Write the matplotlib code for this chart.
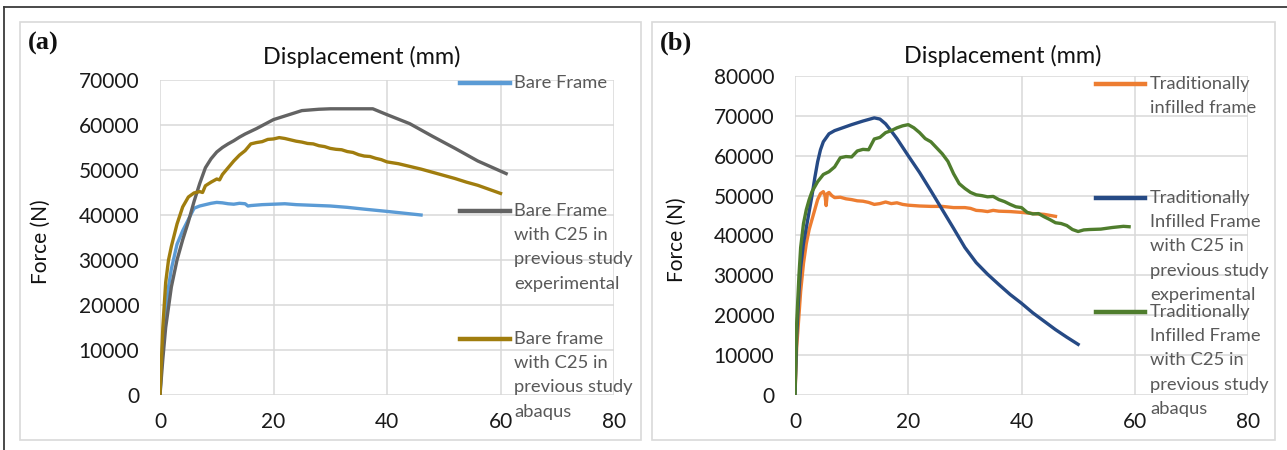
import matplotlib
matplotlib.use("Agg")
import matplotlib.pyplot as plt
from matplotlib.lines import Line2D
from matplotlib.patches import Rectangle

# ---------------- data ----------------
# Panel (a)
bare_x = [0, 0.5, 1, 1.5, 2, 3, 4, 5, 6, 7, 8, 9, 10, 11, 12, 13, 14, 15, 15.5, 16, 17, 18, 20, 22, 24, 26, 28, 30, 33, 36, 40, 43, 46]
bare_y = [0, 12000, 19000, 24000, 28000, 33500, 36500, 39000, 41500, 42000, 42300, 42600, 42800, 42700, 42500, 42400, 42600, 42500, 42000, 42100, 42200, 42300, 42400, 42500, 42300, 42200, 42100, 42000, 41700, 41300, 40800, 40400, 40000]

exp_x = [0, 0.5, 1, 2, 3, 4, 5, 6, 7, 8, 9, 10, 11, 12, 13, 14, 15, 17, 20, 22, 25, 28, 30, 34, 37.5, 40, 44, 48, 52, 56, 61]
exp_y = [0, 8000, 15000, 24000, 30000, 34500, 38500, 43000, 47000, 50500, 52500, 54000, 55000, 55800, 56500, 57300, 58000, 59200, 61200, 62000, 63200, 63500, 63600, 63600, 63600, 62300, 60300, 57500, 54800, 52000, 49200]

abq_x = [0, 0.5, 1, 1.5, 2, 3, 4, 5, 6, 7, 7.5, 8, 9, 10, 10.5, 11, 12, 13, 14, 15, 16, 17, 18, 19, 20, 21, 22, 23, 24, 25, 26, 27, 28, 29, 30, 31, 32, 33, 34, 35, 36, 37, 38, 39, 40, 42, 44, 46, 48, 50, 52, 54, 56, 58, 60]
abq_y = [0, 15000, 25000, 30000, 33000, 38000, 41800, 44000, 44900, 45200, 45000, 46500, 47300, 48000, 47800, 49000, 50500, 52000, 53300, 54300, 55800, 56100, 56300, 56800, 56900, 57200, 57000, 56700, 56400, 56200, 55900, 55800, 55400, 55200, 54800, 54600, 54500, 54100, 53900, 53400, 53100, 53000, 52600, 52300, 51800, 51400, 50800, 50200, 49500, 48800, 48100, 47300, 46600, 45700, 44800]

# Panel (b)
inf_x = [0, 0.3, 0.7, 1, 1.5, 2, 2.5, 3, 3.5, 4, 4.5, 5, 5.3, 5.5, 5.7, 6, 6.5, 7, 8, 9, 10, 11, 12, 13, 14, 15, 16, 17, 18, 19, 20, 22, 24, 26, 28, 30, 31, 32, 33, 34, 35, 36, 38, 40, 42, 44, 46]
inf_y = [0, 12000, 20000, 26000, 33000, 38000, 41500, 44000, 46500, 49000, 50500, 51000, 50000, 47500, 50500, 50800, 50000, 49500, 49600, 49200, 49000, 48700, 48600, 48300, 47800, 48000, 48400, 48000, 48200, 47800, 47600, 47400, 47300, 47300, 47000, 47000, 46800, 46300, 46200, 46000, 46300, 46100, 46000, 45800, 45500, 45300, 44800]

infexp_x = [0, 0.3, 0.7, 1, 1.5, 2, 2.5, 3, 3.5, 4, 4.5, 5, 6, 7, 8, 10, 12, 14, 15, 16, 17, 18, 20, 22, 24, 26, 28, 30, 32, 34, 36, 38, 40, 42, 44, 46, 48, 50]
infexp_y = [0, 15000, 26000, 32000, 38000, 42000, 46000, 50000, 54500, 58500, 61500, 63500, 65500, 66300, 66800, 67800, 68700, 69500, 69200, 68000, 66200, 64300, 60000, 55800, 51200, 46500, 41800, 37000, 33200, 30300, 27700, 25200, 23000, 20600, 18500, 16400, 14500, 12700]

infabq_x = [0, 0.3, 0.7, 1, 1.5, 2, 2.5, 3, 4, 5, 6, 7, 8, 9, 10, 11, 12, 13, 14, 15, 16, 17, 18, 19, 20, 21, 22, 23, 24, 25, 26, 27, 28, 29, 30, 31, 32, 33, 34, 35, 36, 37, 38, 39, 40, 41, 42, 43, 44, 45, 46, 47, 48, 49, 50, 51, 52, 54, 56, 58, 59]
infabq_y = [0, 18000, 30000, 37000, 43000, 46500, 49000, 51000, 53500, 55300, 56000, 57200, 59500, 59800, 59700, 61200, 61600, 61500, 64200, 64600, 65800, 66300, 67000, 67500, 67800, 67000, 65800, 64300, 63500, 62000, 60500, 58600, 55500, 53000, 51800, 50800, 50200, 50000, 49700, 49800, 49000, 48500, 47800, 47200, 47000, 45800, 45400, 45500, 44700, 44000, 43200, 43000, 42500, 41500, 41000, 41400, 41500, 41600, 42000, 42300, 42200]

x_ticks = [0, 20, 40, 60, 80]
a_yticks = [0, 10000, 20000, 30000, 40000, 50000, 60000, 70000]
b_yticks = [0, 10000, 20000, 30000, 40000, 50000, 60000, 70000, 80000]

a_labels = ["Bare Frame",
            "Bare Frame\nwith C25 in\nprevious study\nexperimental",
            "Bare frame\nwith C25 in\nprevious study\nabaqus"]
b_labels = ["Traditionally\ninfilled frame",
            "Traditionally\nInfilled Frame\nwith C25 in\nprevious study\nexperimental",
            "Traditionally\nInfilled Frame\nwith C25 in\nprevious study\nabaqus"]

a_colors = ["#5B9BD5", "#636363", "#A07D0E"]
b_colors = ["#ED7D31", "#264A85", "#4F7D2D"]

# ---------------- figure ----------------
W, H = 1287, 450
plt.rcParams['font.family'] = ['Lato', 'DejaVu Sans']
fig = plt.figure(figsize=(W / 100, H / 100), dpi=100)
fig.patch.set_facecolor("white")

def fx(px):
    return px / W

def fy(py):
    return 1 - py / H

# outer border and panel frames
fig.add_artist(Line2D([fx(4), fx(1287)], [fy(7), fy(7)], color="#3a3a3a", lw=1.3))
fig.add_artist(Line2D([fx(4), fx(4)], [fy(7), fy(450)], color="#3a3a3a", lw=1.3))
fig.add_artist(Rectangle((fx(20), fy(440)), fx(641) - fx(20), fy(22) - fy(440),
                         fill=False, edgecolor="#D9D9D9", lw=1.2))
fig.add_artist(Rectangle((fx(652), fy(440)), fx(1275) - fx(652), fy(22) - fy(440),
                         fill=False, edgecolor="#D9D9D9", lw=1.2))


def make_axes(rect_px, yticks, ymax):
    l, r, t, b = rect_px
    ax = fig.add_axes([fx(l), fy(b), fx(r) - fx(l), fy(t) - fy(b)])
    ax.set_xlim(0, 80)
    ax.set_ylim(0, ymax)
    ax.set_xticks(x_ticks)
    ax.set_yticks(yticks)
    ax.set_xticklabels([str(v) for v in x_ticks])
    ax.set_yticklabels([str(v) for v in yticks])
    for s in ax.spines.values():
        s.set_visible(False)
    ax.grid(True, color="#D9D9D9", lw=1.1)
    ax.set_axisbelow(True)
    ax.tick_params(axis="both", length=0, labelsize=15, colors="#1a1a1a")
    ax.tick_params(axis="x", pad=12)
    ax.tick_params(axis="y", pad=15)
    for lab in ax.get_xticklabels() + ax.get_yticklabels():
        lab.set_color("#1a1a1a")
    return ax

ax_a = make_axes((160, 614, 80, 395), a_yticks, 70000)
ax_b = make_axes((795, 1248, 76, 395), b_yticks, 80000)

lw = 2.4
ax_a.plot(bare_x, bare_y, color=a_colors[0], lw=lw, solid_joinstyle="round")
ax_a.plot(exp_x, exp_y, color=a_colors[1], lw=lw, solid_joinstyle="round")
ax_a.plot(abq_x, abq_y, color=a_colors[2], lw=lw, solid_joinstyle="round")

ax_b.plot(inf_x, inf_y, color=b_colors[0], lw=lw, solid_joinstyle="round")
ax_b.plot(infexp_x, infexp_y, color=b_colors[1], lw=lw, solid_joinstyle="round")
ax_b.plot(infabq_x, infabq_y, color=b_colors[2], lw=lw, solid_joinstyle="round")

# titles, axis labels, panel letters
fig.text(fx(362), fy(57), "Displacement (mm)", ha="center", va="center", fontsize=16.8, color="#111111")
fig.text(fx(1003), fy(56), "Displacement (mm)", ha="center", va="center", fontsize=16.8, color="#111111")
fig.text(fx(41), fy(242), "Force (N)", ha="center", va="center", rotation=90, fontsize=15, color="#111111")
fig.text(fx(677), fy(240), "Force (N)", ha="center", va="center", rotation=90, fontsize=15, color="#111111")
fig.text(fx(28), fy(43), "(a)", ha="left", va="center", fontsize=19, fontweight="bold",
         family="Liberation Serif", color="#111111")
fig.text(fx(660), fy(43), "(b)", ha="left", va="center", fontsize=19, fontweight="bold",
         family="Liberation Serif", color="#111111")

# legends (drawn manually, Excel-style right legend)
line_step = 24.2

def legend(entries, colors, starts, x0, x1, xt):
    for text, c, y0 in zip(entries, colors, starts):
        fig.add_artist(Line2D([fx(x0), fx(x1)], [fy(y0), fy(y0)], color=c, lw=3.2))
        for i, line in enumerate(text.split("\n")):
            fig.text(fx(xt), fy(y0 + i * line_step), line, ha="left", va="center",
                     fontsize=13.2, color="#595959")

legend(a_labels, a_colors, [83, 211, 339], 460, 510, 514)
legend(b_labels, b_colors, [84, 198, 312], 1096, 1145, 1150)

fig.savefig("out.png", dpi=100)
